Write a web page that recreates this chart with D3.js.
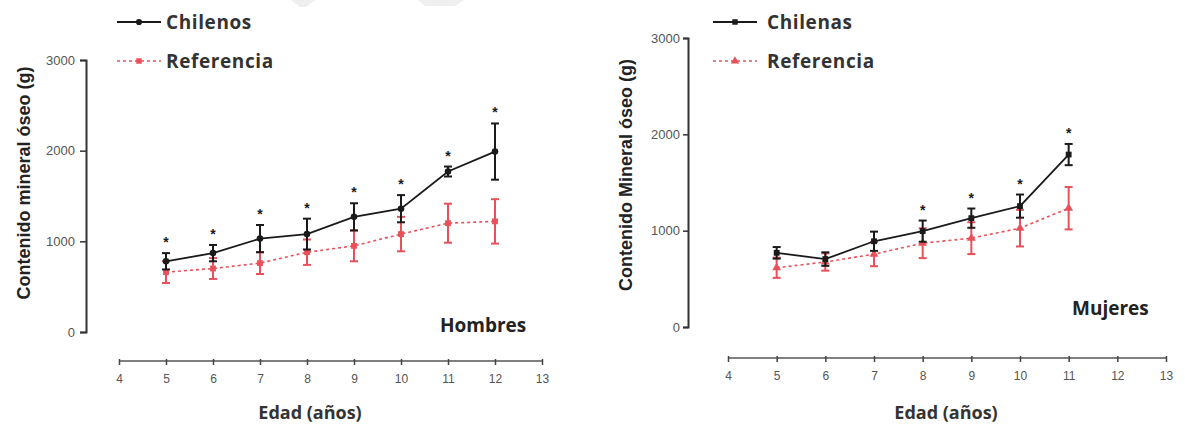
<!DOCTYPE html>
<html>
<head>
<meta charset="utf-8">
<script src="https://cdn.jsdelivr.net/npm/d3@7"></script>
<style>
  html, body { margin: 0; padding: 0; background: #fff; }
  svg { display: block; }
</style>
</head>
<body>
<svg id="chart" width="1185" height="429"></svg>
<script>
// Hombres (left panel)
const agesH = [5, 6, 7, 8, 9, 10, 11, 12];
const chilenosH = [780, 870, 1030, 1080, 1270, 1360, 1770, 1990];
const chilenosHsd = [90, 90, 150, 170, 150, 150, 55, 310];
const refH = [660, 700, 760, 880, 950, 1080, 1200, 1220];
const refHsd = [120, 115, 120, 140, 170, 190, 215, 245];
const starsH = [5, 6, 7, 8, 9, 10, 11, 12];

// Mujeres (right panel)
const agesM = [5, 6, 7, 8, 9, 10, 11];
const chilenasM = [770, 705, 890, 995, 1130, 1255, 1790];
const chilenasMsd = [60, 70, 100, 110, 100, 120, 110];
const refM = [615, 675, 756, 870, 922, 1026, 1233];
const refMsd = [105, 90, 125, 155, 165, 190, 220];
const starsM = [8, 9, 10, 11];

const xTicks = [4, 5, 6, 7, 8, 9, 10, 11, 12, 13];
const yTicks = [0, 1000, 2000, 3000];

const svg = d3.select("#chart");
const black = "#1a1a1a";
const red = "#e8505a";

// faint watermark shapes at the top edge
svg.append("path").attr("d", "M291,0L315,0L306,7L300,7Z").attr("fill", "#efefef");
svg.append("path").attr("d", "M418,0L464,0L455,6L425,6Z").attr("fill", "#efefef");

function panel(opt) {
  const g = svg.append("g");
  const x = d3.scaleLinear().domain([4, 13]).range([opt.x0, opt.x1]);
  const y = d3.scaleLinear().domain([0, 3000]).range([opt.y0, opt.y1]);

  // y axis
  const yAxis = g.append("g")
    .attr("transform", `translate(${opt.yAxisX},0)`)
    .call(d3.axisLeft(y).tickValues(yTicks).tickFormat(d3.format("d"))
      .tickSize(opt.yTick).tickPadding(opt.yPad));
  yAxis.select(".domain").attr("stroke", "#333").attr("stroke-width", 2);
  yAxis.selectAll(".tick line").attr("stroke", "#333").attr("stroke-width", 1.5);
  yAxis.selectAll(".tick text")
    .attr("font-family", "Liberation Sans, Arial, sans-serif")
    .attr("font-size", 13).attr("fill", "#555");

  // x axis (offset below, GraphPad style)
  const xAxis = g.append("g")
    .attr("transform", `translate(0,${opt.xAxisY})`)
    .call(d3.axisBottom(x).tickValues(xTicks).tickSize(5).tickPadding(8));
  xAxis.select(".domain").attr("stroke", "#555").attr("stroke-width", 1.5)
    .attr("d", `M${opt.x0},0H${opt.x1}`);
  xAxis.selectAll(".tick line").attr("stroke", "#444").attr("stroke-width", 1.5)
    .attr("y1", -2).attr("y2", 4);
  xAxis.selectAll(".tick text")
    .attr("font-family", "Liberation Sans, Arial, sans-serif")
    .attr("font-size", 12).attr("fill", "#555");

  // axis titles
  g.append("text")
    .attr("x", opt.titleX)
    .attr("y", 419)
    .attr("text-anchor", "middle")
    .attr("font-family", "Open Sans, sans-serif")
    .attr("font-weight", "bold")
    .attr("font-size", 18)
    .attr("fill", "#333")
    .text("Edad (años)");

  g.append("text")
    .attr("transform", `translate(${opt.yTitleX},${opt.yTitleY}) rotate(-90)`)
    .attr("text-anchor", "middle")
    .attr("font-family", "Liberation Sans, Arial, sans-serif")
    .attr("font-weight", "bold")
    .attr("font-size", 18)
    .attr("fill", "#222")
    .text(opt.yTitle);

  // series
  function series(ages, vals, sds, color, dash, shape) {
    const pts = ages.map((a, i) => ({ a, v: vals[i], sd: sds[i] }));
    const line = d3.line().x(d => x(d.a)).y(d => y(d.v));
    g.append("path").datum(pts)
      .attr("d", line)
      .attr("fill", "none")
      .attr("stroke", color)
      .attr("stroke-width", dash ? 1.6 : 1.8)
      .attr("stroke-dasharray", dash || null);

    const eb = g.append("g").selectAll("g").data(pts).join("g");
    eb.append("line")
      .attr("x1", d => x(d.a)).attr("x2", d => x(d.a))
      .attr("y1", d => y(d.v - d.sd)).attr("y2", d => y(d.v + d.sd))
      .attr("stroke", color).attr("stroke-width", 2);
    [-1, 1].forEach(s => {
      eb.append("line")
        .attr("x1", d => x(d.a) - 4).attr("x2", d => x(d.a) + 4)
        .attr("y1", d => y(d.v + s * d.sd)).attr("y2", d => y(d.v + s * d.sd))
        .attr("stroke", color).attr("stroke-width", 2);
    });
    g.append("g").selectAll("path").data(pts).join("path")
      .attr("transform", d => `translate(${x(d.a)},${y(d.v)})`)
      .attr("d", d3.symbol().type(shape).size(34))
      .attr("fill", color);
    return pts;
  }

  series(opt.ages, opt.ref, opt.refSd, red, "3,3", opt.refShape);
  const chi = series(opt.ages, opt.chi, opt.chiSd, black, null, opt.chiShape);

  // significance stars
  g.append("g").selectAll("text")
    .data(chi.filter(d => opt.stars.includes(d.a)))
    .join("text")
    .attr("x", d => x(d.a))
    .attr("y", d => y(d.v + d.sd) - 6)
    .attr("text-anchor", "middle")
    .attr("font-family", "Liberation Sans, Arial, sans-serif")
    .attr("font-weight", "bold")
    .attr("font-size", 14)
    .attr("fill", black)
    .text("*");

  // legend
  const lg = g.append("g");
  const lx = opt.legendX;
  lg.append("line").attr("x1", lx).attr("x2", lx + 44).attr("y1", 22).attr("y2", 22)
    .attr("stroke", black).attr("stroke-width", 1.8);
  lg.append("path").attr("transform", `translate(${lx + 22},22)`)
    .attr("d", d3.symbol().type(opt.chiShape).size(30)).attr("fill", black);
  lg.append("line").attr("x1", lx).attr("x2", lx + 44).attr("y1", 61).attr("y2", 61)
    .attr("stroke", red).attr("stroke-width", 1.6).attr("stroke-dasharray", "3,3");
  lg.append("path").attr("transform", `translate(${lx + 22},61)`)
    .attr("d", d3.symbol().type(opt.refShape).size(30)).attr("fill", red);
  [[opt.chiName, 22], ["Referencia", 61]].forEach(([t, yy]) => {
    lg.append("text")
      .attr("x", opt.legendTextX).attr("y", yy + 7)
      .attr("font-family", "Open Sans, sans-serif")
      .attr("font-weight", "bold")
      .attr("font-size", 19)
      .attr("letter-spacing", 0.6)
      .attr("fill", "#333")
      .text(t);
  });

  // panel label
  g.append("text")
    .attr("x", opt.labelX).attr("y", opt.labelY)
    .attr("font-family", "Open Sans, sans-serif")
    .attr("font-weight", "bold")
    .attr("font-size", 19)
    .attr("fill", "#222")
    .text(opt.label);
}

panel({
  x0: 119, x1: 542, y0: 332, y1: 60, yAxisX: 86, yTick: 6, yPad: 5, xAxisY: 361,
  yTitleX: 30, yTitleY: 183, titleX: 310,
  yTitle: "Contenido mineral óseo (g)",
  ages: agesH, chi: chilenosH, chiSd: chilenosHsd, ref: refH, refSd: refHsd,
  stars: starsH, chiShape: d3.symbolCircle, refShape: d3.symbolSquare,
  legendX: 117, legendTextX: 166, chiName: "Chilenos",
  label: "Hombres", labelX: 440, labelY: 332
});

panel({
  x0: 728, x1: 1166, y0: 327, y1: 38, yAxisX: 688, yTick: 5, yPad: 3, xAxisY: 358,
  yTitleX: 632, yTitleY: 175, titleX: 946,
  yTitle: "Contenido Mineral óseo (g)",
  ages: agesM, chi: chilenasM, chiSd: chilenasMsd, ref: refM, refSd: refMsd,
  stars: starsM, chiShape: d3.symbolSquare, refShape: d3.symbolTriangle,
  legendX: 713, legendTextX: 767, chiName: "Chilenas",
  label: "Mujeres", labelX: 1072, labelY: 315
});
</script>
</body>
</html>
